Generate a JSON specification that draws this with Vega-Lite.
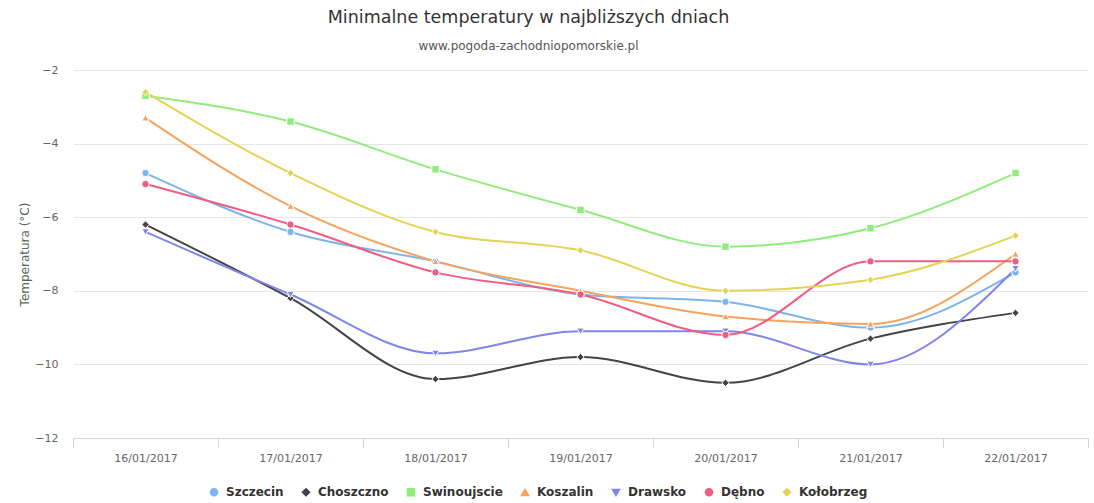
{
  "$schema": "https://vega.github.io/schema/vega-lite/v6.json",
  "width": 1015,
  "height": 368,
  "autosize": {"type": "none"},
  "padding": {"left": 73, "top": 70, "right": 6, "bottom": 65},
  "background": "white",
  "config": {"view": {"stroke": null}, "font": "DejaVu Sans"},
  "title": {
    "text": "Minimalne temperatury w najbliższych dniach",
    "subtitle": "www.pogoda-zachodniopomorskie.pl",
    "anchor": "middle",
    "dx": -52,
    "offset": 12,
    "font": "DejaVu Sans",
    "fontSize": 17.5,
    "fontWeight": "normal",
    "color": "#333333",
    "subtitleFont": "DejaVu Sans",
    "subtitleFontSize": 12,
    "subtitleColor": "#555555",
    "subtitlePadding": 15
  },
  "data": {
    "values": [
      {"data": "16/01/2017", "miasto": "Szczecin", "temp": -4.8},
      {"data": "17/01/2017", "miasto": "Szczecin", "temp": -6.4},
      {"data": "18/01/2017", "miasto": "Szczecin", "temp": -7.2},
      {"data": "19/01/2017", "miasto": "Szczecin", "temp": -8.1},
      {"data": "20/01/2017", "miasto": "Szczecin", "temp": -8.3},
      {"data": "21/01/2017", "miasto": "Szczecin", "temp": -9.0},
      {"data": "22/01/2017", "miasto": "Szczecin", "temp": -7.5},
      {"data": "16/01/2017", "miasto": "Choszczno", "temp": -6.2},
      {"data": "17/01/2017", "miasto": "Choszczno", "temp": -8.2},
      {"data": "18/01/2017", "miasto": "Choszczno", "temp": -10.4},
      {"data": "19/01/2017", "miasto": "Choszczno", "temp": -9.8},
      {"data": "20/01/2017", "miasto": "Choszczno", "temp": -10.5},
      {"data": "21/01/2017", "miasto": "Choszczno", "temp": -9.3},
      {"data": "22/01/2017", "miasto": "Choszczno", "temp": -8.6},
      {"data": "16/01/2017", "miasto": "Swinoujscie", "temp": -2.7},
      {"data": "17/01/2017", "miasto": "Swinoujscie", "temp": -3.4},
      {"data": "18/01/2017", "miasto": "Swinoujscie", "temp": -4.7},
      {"data": "19/01/2017", "miasto": "Swinoujscie", "temp": -5.8},
      {"data": "20/01/2017", "miasto": "Swinoujscie", "temp": -6.8},
      {"data": "21/01/2017", "miasto": "Swinoujscie", "temp": -6.3},
      {"data": "22/01/2017", "miasto": "Swinoujscie", "temp": -4.8},
      {"data": "16/01/2017", "miasto": "Koszalin", "temp": -3.3},
      {"data": "17/01/2017", "miasto": "Koszalin", "temp": -5.7},
      {"data": "18/01/2017", "miasto": "Koszalin", "temp": -7.2},
      {"data": "19/01/2017", "miasto": "Koszalin", "temp": -8.0},
      {"data": "20/01/2017", "miasto": "Koszalin", "temp": -8.7},
      {"data": "21/01/2017", "miasto": "Koszalin", "temp": -8.9},
      {"data": "22/01/2017", "miasto": "Koszalin", "temp": -7.0},
      {"data": "16/01/2017", "miasto": "Drawsko", "temp": -6.4},
      {"data": "17/01/2017", "miasto": "Drawsko", "temp": -8.1},
      {"data": "18/01/2017", "miasto": "Drawsko", "temp": -9.7},
      {"data": "19/01/2017", "miasto": "Drawsko", "temp": -9.1},
      {"data": "20/01/2017", "miasto": "Drawsko", "temp": -9.1},
      {"data": "21/01/2017", "miasto": "Drawsko", "temp": -10.0},
      {"data": "22/01/2017", "miasto": "Drawsko", "temp": -7.4},
      {"data": "16/01/2017", "miasto": "Dębno", "temp": -5.1},
      {"data": "17/01/2017", "miasto": "Dębno", "temp": -6.2},
      {"data": "18/01/2017", "miasto": "Dębno", "temp": -7.5},
      {"data": "19/01/2017", "miasto": "Dębno", "temp": -8.1},
      {"data": "20/01/2017", "miasto": "Dębno", "temp": -9.2},
      {"data": "21/01/2017", "miasto": "Dębno", "temp": -7.2},
      {"data": "22/01/2017", "miasto": "Dębno", "temp": -7.2},
      {"data": "16/01/2017", "miasto": "Kołobrzeg", "temp": -2.6},
      {"data": "17/01/2017", "miasto": "Kołobrzeg", "temp": -4.8},
      {"data": "18/01/2017", "miasto": "Kołobrzeg", "temp": -6.4},
      {"data": "19/01/2017", "miasto": "Kołobrzeg", "temp": -6.9},
      {"data": "20/01/2017", "miasto": "Kołobrzeg", "temp": -8.0},
      {"data": "21/01/2017", "miasto": "Kołobrzeg", "temp": -7.7},
      {"data": "22/01/2017", "miasto": "Kołobrzeg", "temp": -6.5}
    ]
  },
  "encoding": {
    "x": {
      "field": "data",
      "type": "nominal",
      "sort": null,
      "scale": {"type": "band", "paddingInner": 0, "paddingOuter": 0},
      "axis": {
        "title": null,
        "labelAngle": 0,
        "labelColor": "#666666",
        "labelFontSize": 11,
        "labelFont": "DejaVu Sans",
        "labelPadding": 4,
        "domainColor": "#ccd6eb",
        "tickColor": "#ccd6eb",
        "tickSize": 10,
        "tickBand": "extent",
        "grid": false
      }
    },
    "y": {
      "field": "temp",
      "type": "quantitative",
      "scale": {"domain": [-12, -2], "nice": false, "zero": false},
      "axis": {
        "title": "Temperatura (°C)",
        "titleColor": "#586858",
        "titleFontSize": 12,
        "titleFontWeight": "normal",
        "titleFont": "DejaVu Sans",
        "titlePadding": 3,
        "values": [-12, -10, -8, -6, -4, -2],
        "domain": false,
        "ticks": false,
        "labelColor": "#666666",
        "labelFontSize": 11,
        "labelFont": "DejaVu Sans",
        "labelPadding": 15,
        "gridColor": "#e6e6e6"
      }
    },
    "color": {
      "field": "miasto",
      "type": "nominal",
      "scale": {
        "domain": ["Szczecin", "Choszczno", "Swinoujscie", "Koszalin", "Drawsko", "Dębno", "Kołobrzeg"],
        "range": ["#7cb5ec", "#434348", "#90ed7d", "#f7a35c", "#8085e9", "#f15c80", "#e4d354"]
      },
      "legend": {
        "title": null,
        "orient": "none",
        "legendX": 135,
        "legendY": 416,
        "direction": "horizontal",
        "labelFont": "DejaVu Sans",
        "labelFontSize": 12,
        "labelFontWeight": "bold",
        "labelColor": "#333333",
        "symbolSize": 50,
        "columnPadding": 15,
        "labelOffset": 6
      }
    }
  },
  "layer": [
    {"mark": {"type": "line", "interpolate": "monotone", "strokeWidth": 2}},
    {
      "mark": {"type": "point", "filled": true, "opacity": 1, "size": 55, "stroke": "white", "strokeWidth": 1},
      "encoding": {
        "shape": {
          "field": "miasto",
          "type": "nominal",
          "scale": {
            "domain": ["Szczecin", "Choszczno", "Swinoujscie", "Koszalin", "Drawsko", "Dębno", "Kołobrzeg"],
            "range": ["circle", "diamond", "square", "triangle-up", "triangle-down", "circle", "diamond"]
          },
          "legend": {
            "title": null,
            "orient": "none",
            "legendX": 135,
            "legendY": 416,
            "direction": "horizontal",
            "labelFont": "DejaVu Sans",
            "labelFontSize": 12,
            "labelFontWeight": "bold",
            "labelColor": "#333333",
            "symbolSize": 50,
            "columnPadding": 15,
            "labelOffset": 6
          }
        }
      }
    }
  ]
}
